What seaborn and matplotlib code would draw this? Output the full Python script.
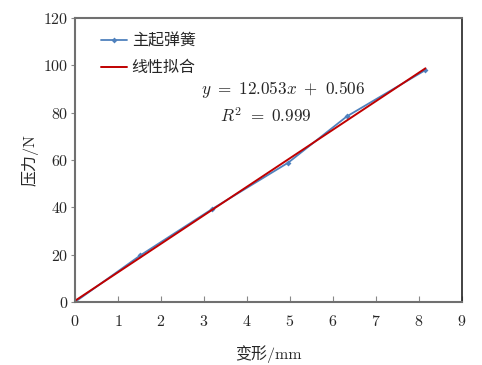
import numpy as np
import pandas as pd
import matplotlib
matplotlib.use("Agg")
import matplotlib.pyplot as plt
import seaborn as sns

# data
deform = [0.0, 1.52, 3.19, 4.96, 6.32, 8.15]
force = [0.0, 19.7, 39.3, 58.9, 78.4, 98.0]
slope, intercept = 12.053, 0.506
series_name = "主起弹簧"
fit_name = "线性拟合"
xlabel = "变形/mm"
ylabel = "压力/N"
eq_text = r"$y\ =\ 12.053x\ +\ 0.506$"
r2_text = r"$R^2\ =\ 0.999$"

sns.set_style("white")
plt.rcParams["font.family"] = ["cmr10", "Noto Sans CJK SC"]
plt.rcParams["mathtext.fontset"] = "cm"
plt.rcParams["axes.formatter.use_mathtext"] = True

fig = plt.figure(figsize=(4.82, 3.65), dpi=100)
ax = fig.add_axes([75/482, 63/365, 387/482, 284/365])

df = pd.DataFrame({"x": deform, "y": force})
fit_x = np.array([deform[0], deform[-1]])
fit_df = pd.DataFrame({"x": fit_x, "y": slope * fit_x + intercept})

sns.lineplot(data=df, x="x", y="y", ax=ax, color="#4F81BD", lw=1.3,
             marker="D", markersize=3, markeredgewidth=0, label=series_name)
sns.lineplot(data=fit_df, x="x", y="y", ax=ax, color="#C00000", lw=1.4,
             label=fit_name)

ax.set_xlim(0, 9)
ax.set_ylim(0, 120)
ax.set_xticks(range(0, 10))
ax.set_yticks(range(0, 121, 20))
ax.tick_params(axis="x", direction="in", length=4, color="#888888", labelsize=11.5, pad=9)
ax.tick_params(axis="y", direction="out", length=3, color="#888888", labelsize=11.5, pad=2)
ax.tick_params(bottom=True, left=True)
for s in ["left", "bottom", "top"]:
    ax.spines[s].set_color("#707070")
    ax.spines[s].set_linewidth(1.5)
ax.spines["right"].set_color("#222222")
ax.spines["right"].set_linewidth(1.2)

ax.set_xlabel(xlabel, fontsize=11.5, labelpad=11)
ax.set_ylabel(ylabel, fontsize=11.5, labelpad=3)

ax.text(2.93, 89.6, eq_text, fontsize=12.3, va="center", ha="left")
ax.text(3.37, 78.6, r2_text, fontsize=12.3, va="center", ha="left")

leg = ax.legend(loc="upper left", frameon=False, fontsize=11.5, handlelength=1.6,
                handletextpad=0.3, borderaxespad=0.4, labelspacing=0.75,
                bbox_to_anchor=(0.035, 0.99))

fig.savefig("out.png", dpi=100)
